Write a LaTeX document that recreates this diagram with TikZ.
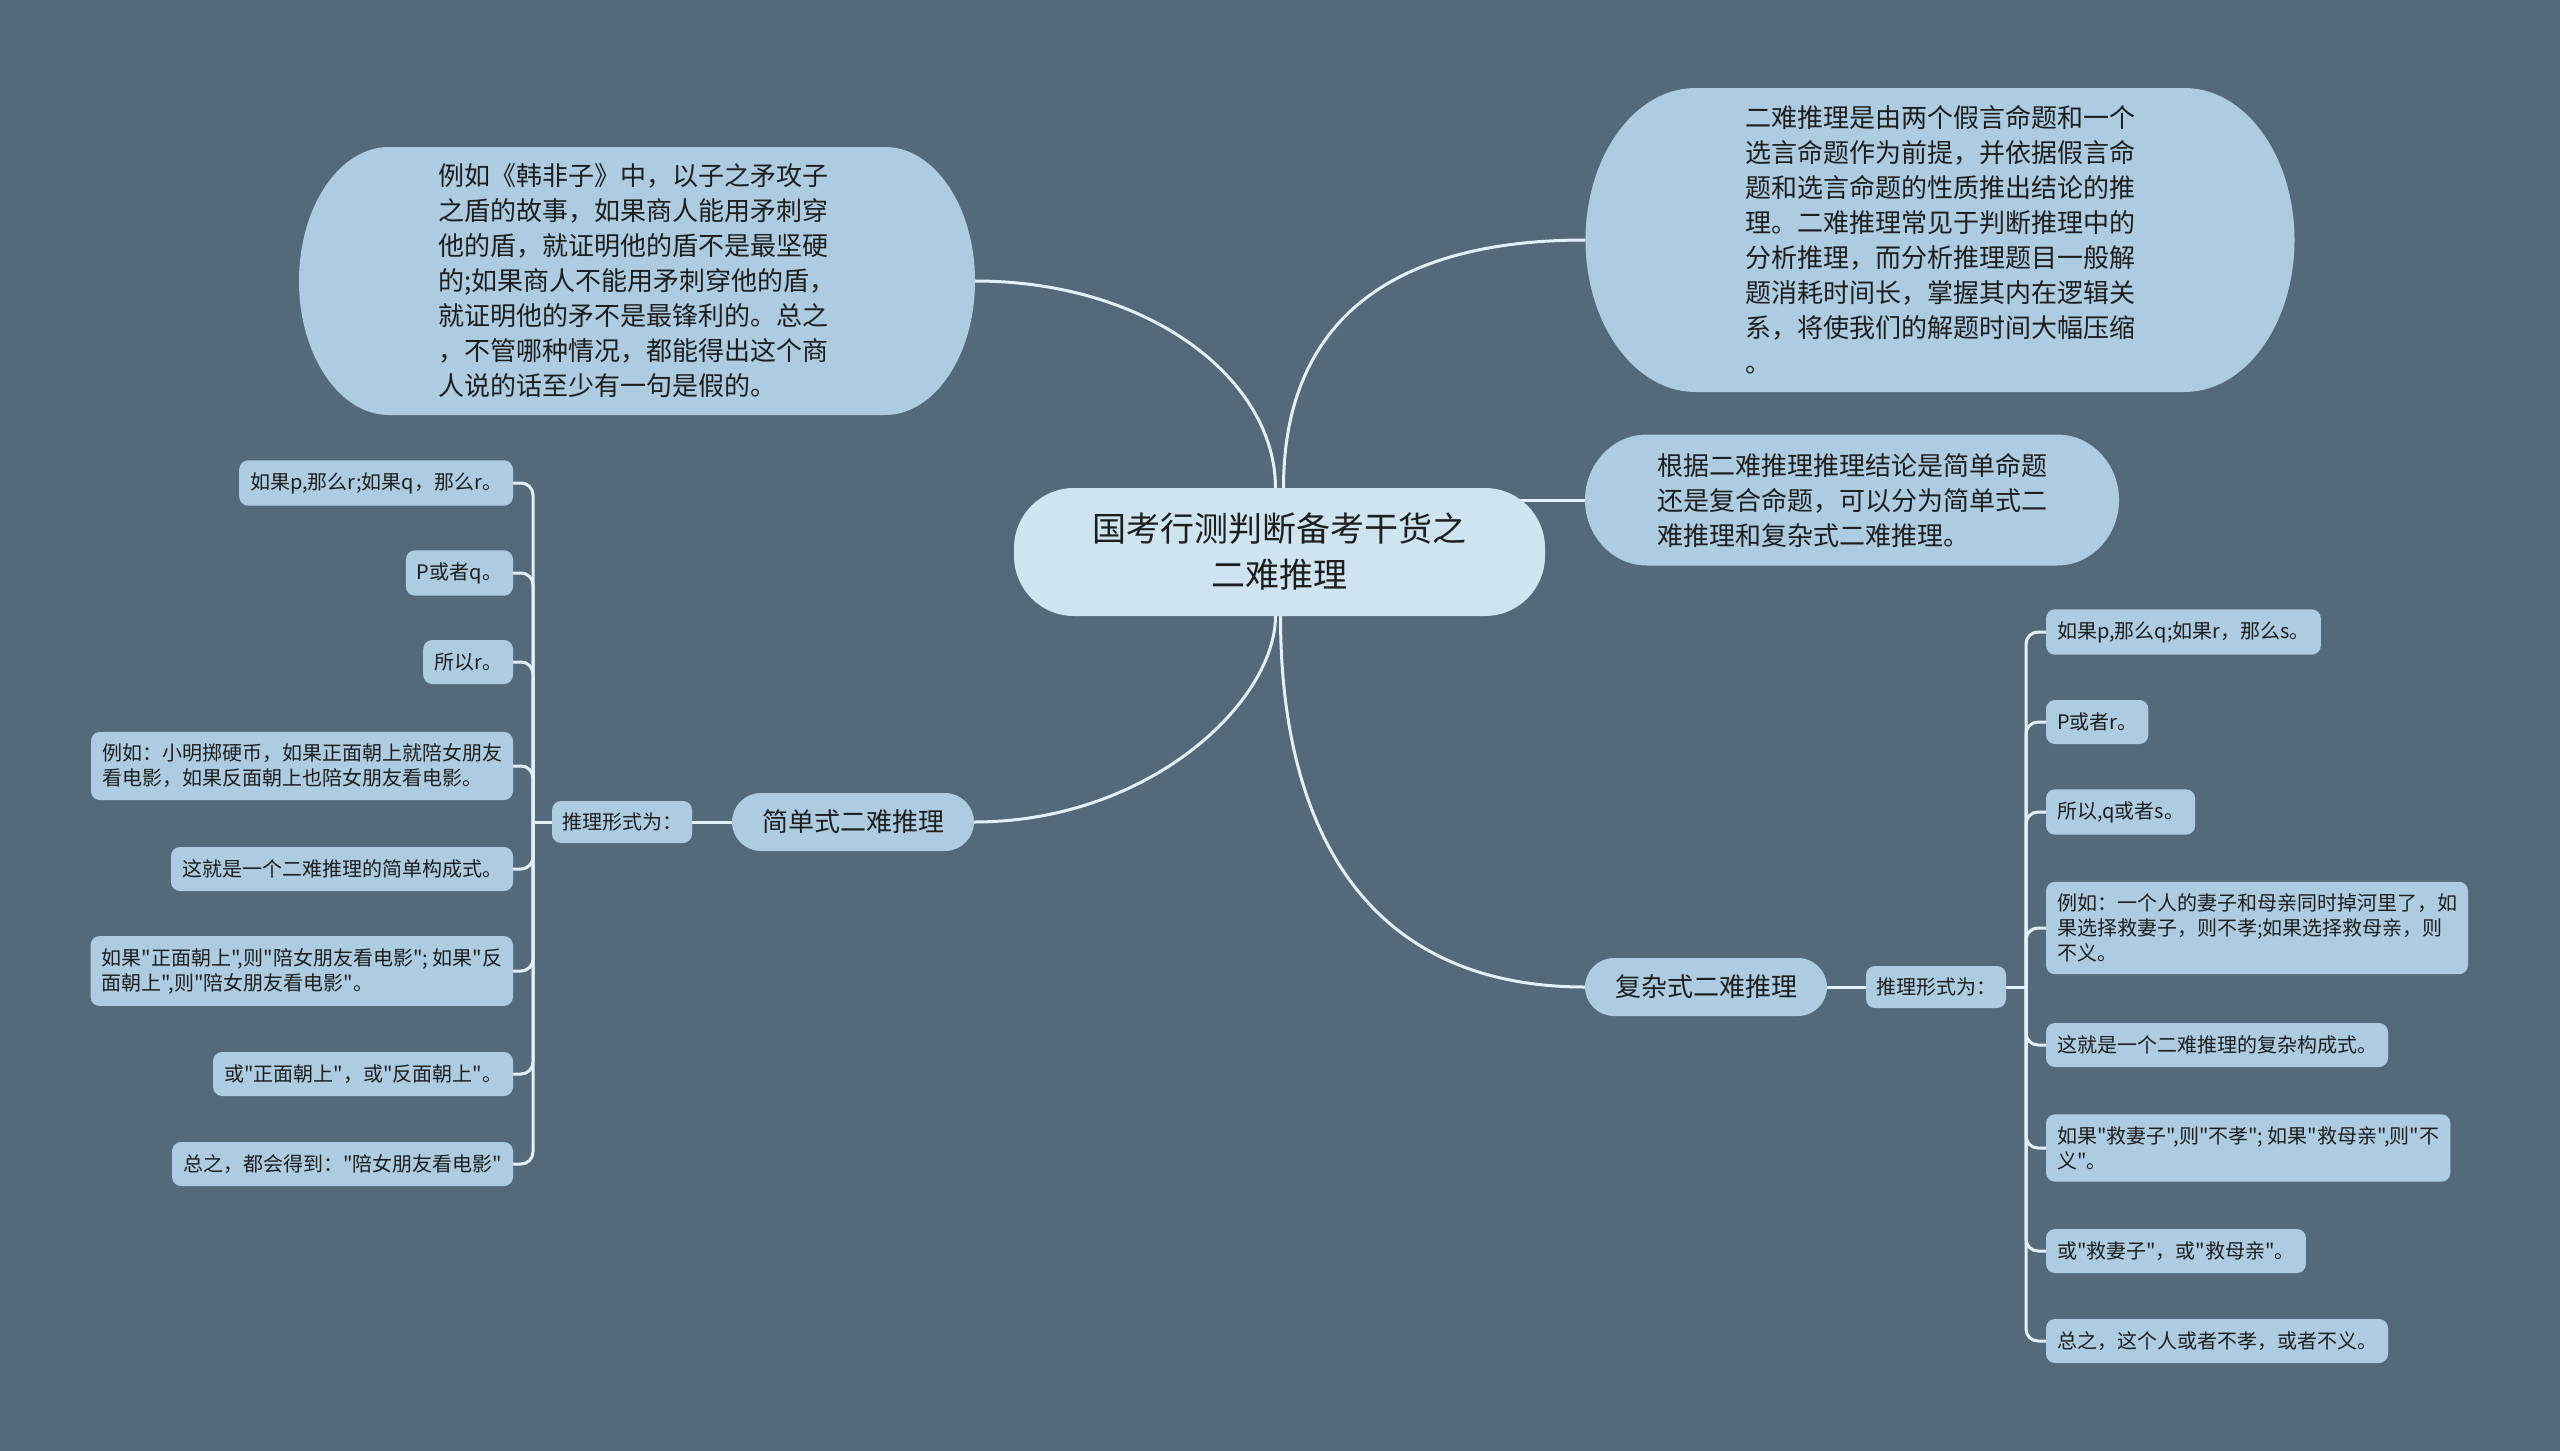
\documentclass[tikz,border=0pt]{standalone}
\usepackage{fontspec}
\setmainfont{Noto Sans CJK SC}[Ligatures=TeXOff]
\usetikzlibrary{backgrounds}
\definecolor{bgc}{HTML}{546A7A}
\definecolor{nodec}{HTML}{ADCBE1}
\definecolor{rootc}{HTML}{CEE5F1}
\definecolor{linec}{HTML}{E2F1F9}
\definecolor{txtc}{HTML}{1E1E1E}
\newcommand\mmcapsule[4]{%
  \fill[#4] ([xshift=#2]#1.north west) -- ([xshift=-#2]#1.north east)
    arc[start angle=90,end angle=-90,x radius=#2,y radius=#3]
    -- ([xshift=#2]#1.south west)
    arc[start angle=270,end angle=90,x radius=#2,y radius=#3] -- cycle;}
\begin{document}
\begin{tikzpicture}[x=1pt,y=-1pt,
  every node/.style={outer sep=0pt,text=txtc},
  conn/.style={draw=linec,line width=3pt},
  bconn/.style={draw=linec,line width=3pt,rounded corners=12pt},
  bubble/.style={align=left,font=\fontsize{26}{35}\selectfont,inner sep=0pt},
  rootbox/.style={fill=rootc,rounded corners=60pt,align=center,font=\fontsize{34}{46}\selectfont,minimum width=531pt,minimum height=128pt,inner sep=0pt},
  branch/.style={fill=nodec,rounded corners=29pt,minimum width=242pt,minimum height=58pt,font=\fontsize{26}{30}\selectfont,inner sep=0pt},
  lab/.style={fill=nodec,rounded corners=9pt,minimum height=42pt,font=\fontsize{20}{25}\selectfont,inner xsep=10pt,inner ysep=0pt},
  leaf/.style={fill=nodec,rounded corners=9pt,align=left,font=\fontsize{20}{25}\selectfont,inner xsep=11pt,inner ysep=12pt,minimum height=44pt}]
\useasboundingbox (0,0) rectangle (2560,1451);

% root and bubbles
\node[rootbox] (root) at (1279.5,552) {国考行测判断备考干货之\\二难推理};
\node[bubble,minimum width=676pt,minimum height=268pt] (b1) at (637,281) {例如《韩非子》中，以子之矛攻子\\之盾的故事，如果商人能用矛刺穿\\他的盾，就证明他的盾不是最坚硬\\的;如果商人不能用矛刺穿他的盾，\\就证明他的矛不是最锋利的。总之\\，不管哪种情况，都能得出这个商\\人说的话至少有一句是假的。};
\node[bubble,minimum width=709pt,minimum height=304pt] (b2) at (1940,240) {二难推理是由两个假言命题和一个\\选言命题作为前提，并依据假言命\\题和选言命题的性质推出结论的推\\理。二难推理常见于判断推理中的\\分析推理，而分析推理题目一般解\\题消耗时间长，掌握其内在逻辑关\\系，将使我们的解题时间大幅压缩\\。};
\node[bubble,minimum width=534pt,minimum height=131pt] (b3) at (1852,500) {根据二难推理推理结论是简单命题\\还是复合命题，可以分为简单式二\\难推理和复杂式二难推理。};

% branches
\node[branch] (s1) at (853,822) {简单式二难推理};
\node[lab] (sl) at (622,822) {推理形式为：};
\node[branch] (c1) at (1706,987) {复杂式二难推理};
\node[lab] (cl) at (1936,987) {推理形式为：};

% left leaves
\node[leaf,anchor=east] (L1) at (513,483) {如果p,那么r;如果q，那么r。};
\node[leaf,anchor=east] (L2) at (513,573) {P或者q。};
\node[leaf,anchor=east] (L3) at (513,662) {所以r。};
\node[leaf,anchor=east] (L4) at (513,766) {例如：小明掷硬币，如果正面朝上就陪女朋友\\看电影，如果反面朝上也陪女朋友看电影。};
\node[leaf,anchor=east] (L5) at (513,869) {这就是一个二难推理的简单构成式。};
\node[leaf,anchor=east] (L6) at (513,971) {如果"正面朝上",则"陪女朋友看电影"; 如果"反\\面朝上",则"陪女朋友看电影"。};
\node[leaf,anchor=east] (L7) at (513,1074) {或"正面朝上"，或"反面朝上"。};
\node[leaf,anchor=east] (L8) at (513,1164) {总之，都会得到："陪女朋友看电影"};

% right leaves
\node[leaf,anchor=west] (R1) at (2046,632) {如果p,那么q;如果r，那么s。};
\node[leaf,anchor=west] (R2) at (2046,722) {P或者r。};
\node[leaf,anchor=west] (R3) at (2046,812) {所以,q或者s。};
\node[leaf,anchor=west] (R4) at (2046,928) {例如：一个人的妻子和母亲同时掉河里了，如\\果选择救妻子，则不孝;如果选择救母亲，则\\不义。};
\node[leaf,anchor=west] (R5) at (2046,1045) {这就是一个二难推理的复杂构成式。};
\node[leaf,anchor=west] (R6) at (2046,1148) {如果"救妻子",则"不孝"; 如果"救母亲",则"不\\义"。};
\node[leaf,anchor=west] (R7) at (2046,1251) {或"救妻子"，或"救母亲"。};
\node[leaf,anchor=west] (R8) at (2046,1341) {总之，这个人或者不孝，或者不义。};

\begin{pgfonlayer}{background}
\fill[bgc] (0,0) rectangle (2560,1451);
% main connectors
\draw[conn] ([xshift=-4pt]root.north) .. controls +(0,-108) and +(175,0) .. (b1.east);
\draw[conn] ([xshift=4pt]root.north) .. controls +(0,-158) and +(-205,0) .. (b2.west);
\draw[conn] ([xshift=-60pt]root.east |- b3.west) -- (b3.west);
\draw[conn] ([xshift=-4pt]root.south) .. controls +(0,85) and +(176,0) .. (s1.east);
\draw[conn] ([xshift=1pt]root.south) .. controls +(0,205) and +(-225,0) .. (c1.west);
\draw[conn] (s1.west) -- (sl.east);
\draw[conn] (c1.east) -- (cl.west);
% brackets
\coordinate (sj) at ([xshift=-19pt]sl.west);
\coordinate (cj) at ([xshift=20pt]cl.east);
\draw[conn] (sl.west) -- (sj);
\draw[conn] (cl.east) -- (cj);
\foreach \i in {1,...,8} {
  \draw[bconn] (sj) |- (L\i.east);
  \draw[bconn] (cj) |- (R\i.west);
}
% bubble shapes
\mmcapsule{b1}{90pt}{134pt}{nodec}
\mmcapsule{b2}{110pt}{152pt}{nodec}
\mmcapsule{b3}{62pt}{65.5pt}{nodec}
\end{pgfonlayer}
\end{tikzpicture}
\end{document}
